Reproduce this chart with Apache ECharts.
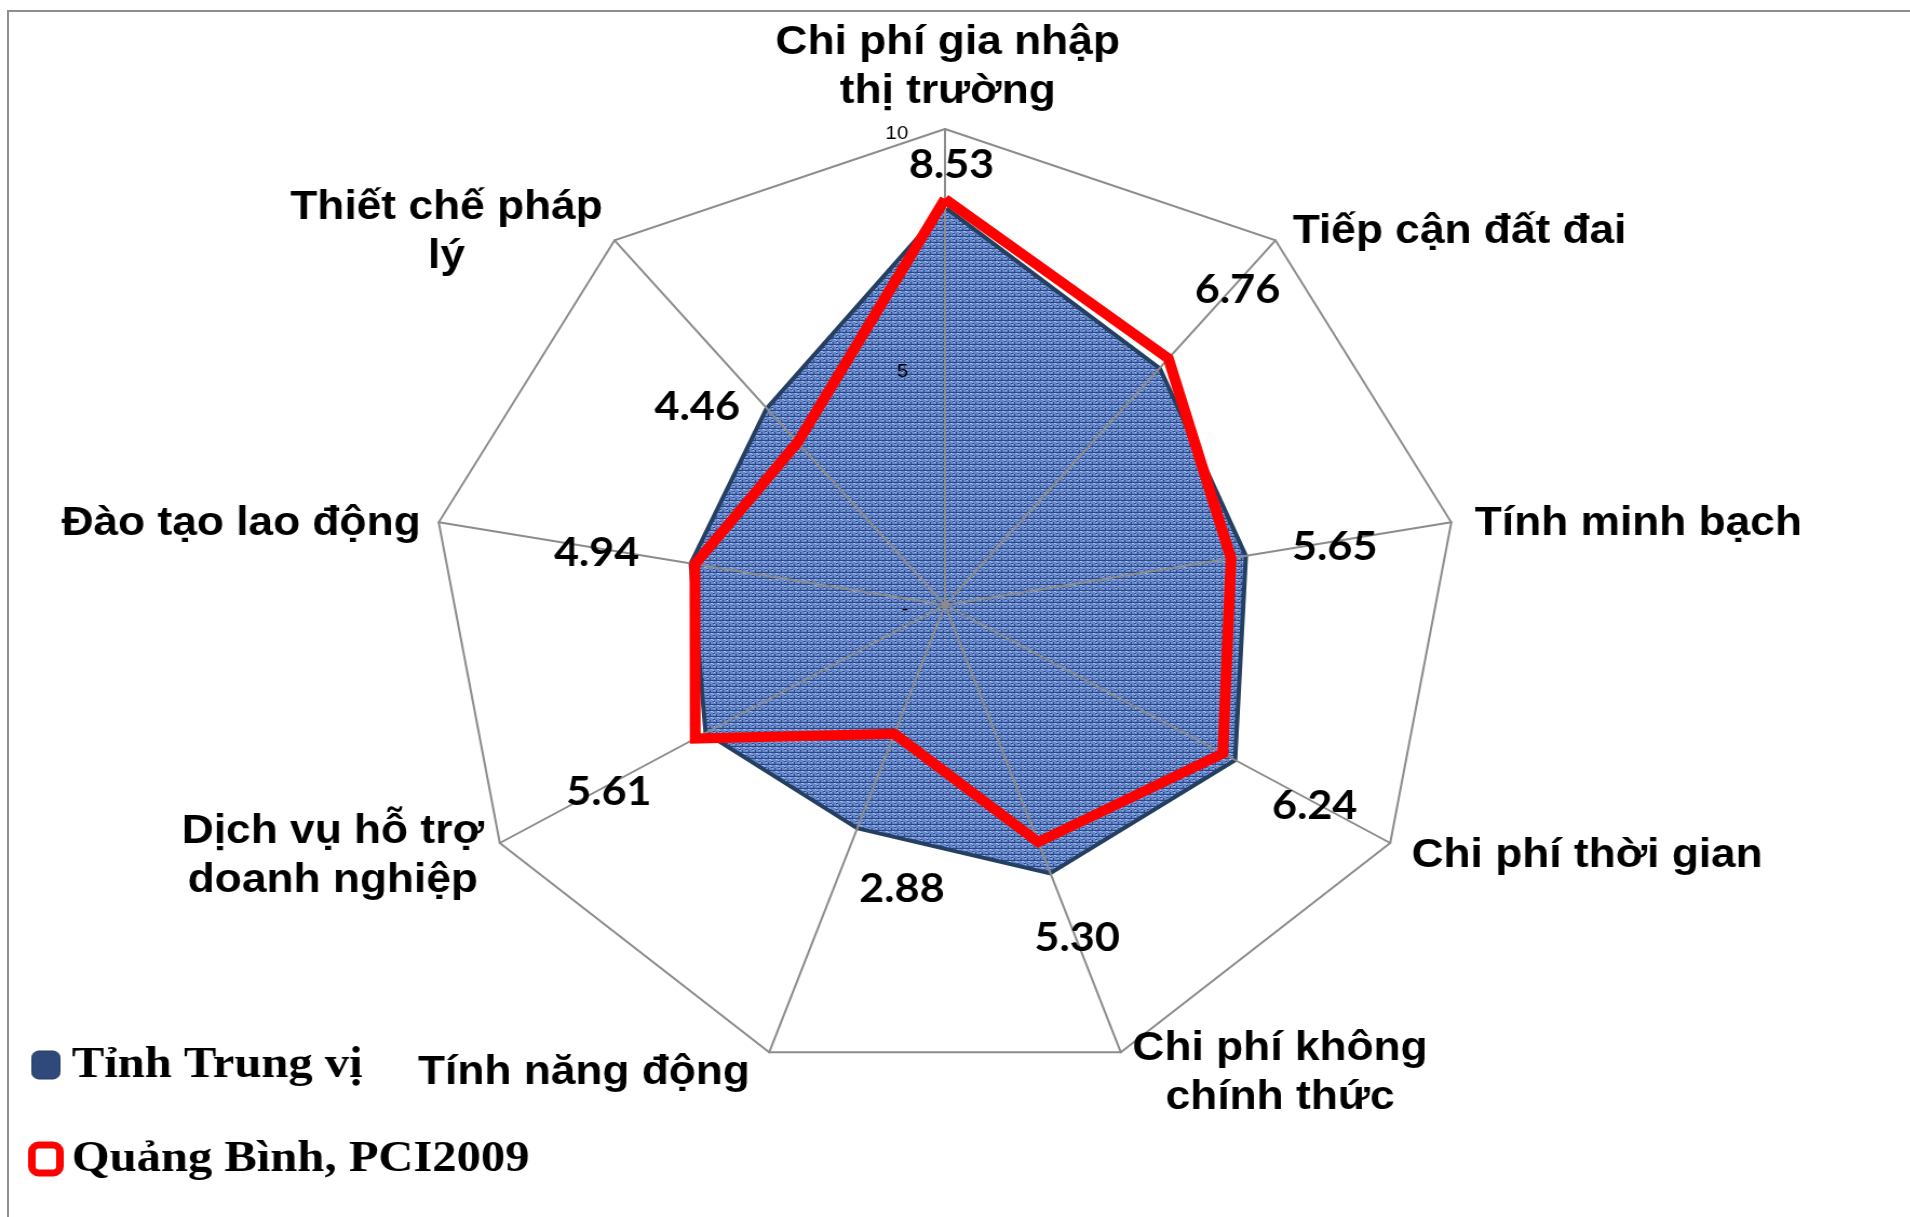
<!DOCTYPE html>
<html>
<head>
<meta charset="utf-8">
<title>PCI 2009 Quảng Bình</title>
<script src="https://cdn.jsdelivr.net/npm/echarts@6/dist/echarts.min.js"></script>
<style>
  html, body { margin: 0; padding: 0; background: #fff; overflow: hidden; }
  #frame { position: absolute; left: 7px; top: 10px; width: 2000px; height: 1300px;
           border-left: 2px solid #8f8f8f; border-top: 2px solid #8f8f8f; }
  /* the original plot is a bit wider than it is tall */
  #main { position: absolute; left: 0; top: 0; width: 1769px; height: 1217px;
          transform: scaleX(1.08); transform-origin: 0 0; }
</style>
</head>
<body>
<div id="frame"></div>
<div id="main"></div>
<script>
// clockwise from the top, as in the excel chart
const categories = [
  'Chi phí gia nhập\nthị trường',
  'Tiếp cận đất đai',
  'Tính minh bạch',
  'Chi phí thời gian',
  'Chi phí không\nchính thức',
  'Tính năng động',
  'Dịch vụ hỗ trợ\ndoanh nghiệp',
  'Đào tạo lao động',
  'Thiết chế pháp\nlý'
];
const seriesNames = ['Tỉnh Trung vị', 'Quảng Bình, PCI2009'];
const medianValues = [8.3, 6.45, 5.9, 6.47, 5.95, 4.95, 5.33, 4.98, 5.35];
const quangBinhValues = [8.53, 6.76, 5.65, 6.24, 5.30, 2.88, 5.61, 4.94, 4.46];
const axisMax = 10;
const axisStep = 5;

// echarts lays radar axes out counter-clockwise, so walk the lists backwards after the first one
const n = categories.length;
const order = categories.map((_, j) => (n - j) % n);
const pick = arr => order.map(k => arr[k]);

// where each value label sits relative to its point (like the excel labels)
const labelShift = [[6, -34], [64, -68], [96, -11], [85, 53], [36, 96], [7, 155], [-80, 54], [-91, -11], [-93, -35]];
// "Tính năng động" sits a little closer in than the others
const nameStyle = ['c', 'c', 'c', 'c', 'c', 'd', 'c', 'c', 'c'];

// small woven texture for the median area
function weave() {
  const c = document.createElement('canvas');
  c.width = 6; c.height = 6;
  const g = c.getContext('2d');
  g.fillStyle = '#6686c8';
  g.fillRect(0, 0, 6, 6);
  g.fillStyle = '#29488a';
  g.fillRect(0, 2, 6, 1);
  g.fillRect(3, 0, 1, 2);
  g.fillRect(0, 5, 2, 1);
  g.fillStyle = '#a6c2f4';
  g.fillRect(1, 0, 1, 1);
  g.fillRect(4, 3, 2, 1);
  g.fillRect(0, 4, 1, 1);
  return c;
}

const nameFont = {
  align: 'center',
  fontFamily: 'Liberation Sans',
  fontWeight: 'bold',
  fontSize: 41,
  lineHeight: 49,
  color: '#000'
};

const chart = echarts.init(document.getElementById('main'), null, { renderer: 'canvas' });

const option = {
  animation: false,
  backgroundColor: 'transparent',
  legend: {
    orient: 'vertical',
    left: 26,
    top: 1040,
    padding: 0,
    itemWidth: 26,
    itemHeight: 28,
    itemGap: 44,
    selectedMode: false,
    textStyle: {
      fontFamily: 'Liberation Serif',
      fontWeight: 'bold',
      fontSize: 45,
      color: '#000',
      lineHeight: 50,
      padding: [0, 0, 0, 6]
    },
    data: [
      { name: seriesNames[0], icon: 'roundRect', itemStyle: { color: '#2f4a7a', borderColor: '#243f60', borderWidth: 1 } },
      { name: seriesNames[1], icon: 'roundRect', itemStyle: { color: '#fff', borderColor: '#ff0000', borderWidth: 7 } }
    ]
  },
  radar: {
    center: [875, 605],
    radius: 476,
    startAngle: 90,
    splitNumber: axisMax / axisStep,
    z: 2,
    indicator: pick(categories).map((name, i) => ({
      name: name, min: 0, max: axisMax,
      axisLabel: { show: i === 0 }
    })),
    axisNameGap: 17,
    axisName: {
      formatter: name => {
        const s = nameStyle[categories.indexOf(name)] || 'c';
        return name.split('\n').map(t => '{' + s + '|' + t + '}').join('\n');
      },
      rich: {
        c: Object.assign({ padding: [9, 0, 0, 5] }, nameFont),
        d: Object.assign({ padding: [9, 12, 0, 5] }, nameFont)
      }
    },
    axisLine: { lineStyle: { color: '#8c8c8c', width: 2 } },
    splitLine: { lineStyle: { color: ['transparent', 'transparent', '#8c8c8c'], width: 2 } },
    splitArea: { show: false },
    axisTick: { show: false },
    axisLabel: {
      show: false,
      margin: 34,
      formatter: v => '{t|' + (v === 0 ? '-' : String(v)) + '}',
      rich: {
        t: {
          padding: [9, 0, 0, 0],
          fontFamily: 'Liberation Sans',
          fontSize: 19,
          color: '#000'
        }
      }
    }
  },
  series: [
    {
      name: seriesNames[0],
      type: 'radar',
      z: 1,
      symbol: 'none',
      itemStyle: { color: '#2f4a7a' },
      lineStyle: { color: '#243f60', width: 8, join: 'miter' },
      areaStyle: { color: { image: weave(), repeat: 'repeat' }, opacity: 1 },
      data: [{ name: seriesNames[0], value: pick(medianValues) }]
    },
    {
      name: seriesNames[1],
      type: 'radar',
      z: 3,
      symbol: 'circle',
      symbolSize: 2,
      itemStyle: { color: '#ff0000' },
      lineStyle: { color: '#ff0000', width: 10, join: 'miter' },
      label: {
        show: true,
        position: 'inside',
        fontFamily: 'Lato',
        fontWeight: 'bold',
        fontSize: 40,
        color: '#000',
        formatter: p => Number(p.value).toFixed(2)
      },
      labelLayout: p => {
        const i = quangBinhValues.indexOf(Number(p.text));
        if (i < 0) return {};
        return { dx: labelShift[i][0], dy: labelShift[i][1] };
      },
      data: [{ name: seriesNames[1], value: pick(quangBinhValues) }]
    }
  ]
};

chart.setOption(option);
</script>
</body>
</html>
